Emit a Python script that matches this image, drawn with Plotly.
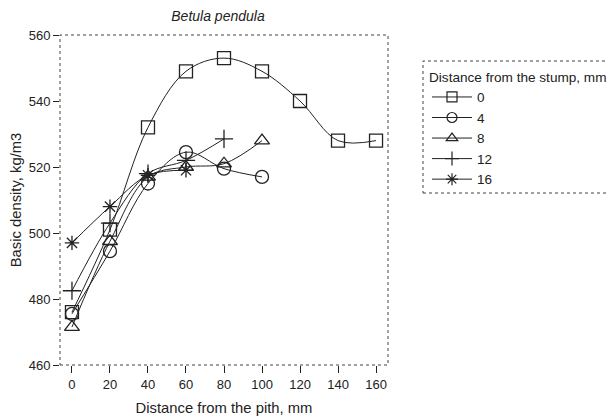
import plotly.graph_objects as go

x_all = [0, 20, 40, 60, 80, 100, 120, 140, 160]
series_names = ["0", "4", "8", "12", "16"]
dens_0 = [476, 501, 532, 549, 553, 549, 540, 528, 528]
dens_4 = [475.5, 494.5, 515, 524.5, 519.5, 517]
dens_8 = [471.5, 497.5, 517, 520, 521, 528]
dens_12 = [482.5, 503, 518, 522, 528.5]
dens_16 = [497, 508, 517.5, 519]
symbols = ["square-open", "circle-open", "triangle-up-open", "cross-thin-open", "asterisk-open"]
sizes = [13, 13, 13, 13, 12]

all_vals = [dens_0, dens_4, dens_8, dens_12, dens_16]

fig = go.Figure()
for name, vals, sym, sz in zip(series_names, all_vals, symbols, sizes):
    fig.add_trace(go.Scatter(
        x=x_all[:len(vals)], y=vals, name=name, mode="lines+markers",
        line=dict(color="#222", width=1, shape="spline", smoothing=1),
        marker=dict(symbol=sym, size=sz, color="#222", line=dict(color="#222", width=1.3)),
        showlegend=False, legendgroup=name,
    ))
for name, sym in zip(series_names, symbols):
    fig.add_trace(go.Scatter(
        x=[None], y=[None], name=name, mode="lines+markers",
        line=dict(color="#222", width=1),
        marker=dict(symbol=sym, size=10, color="#222", line=dict(color="#222", width=1.2)),
        showlegend=True, legendgroup=name,
    ))

font = "Liberation Sans, Arial, sans-serif"
# page body has an 8px margin, so the figure is 8px smaller and drawn in shifted coords
W, H = 608, 408
fig.update_layout(
    width=W, height=H,
    margin=dict(l=52, r=228, t=27, b=51, autoexpand=False),
    paper_bgcolor="white", plot_bgcolor="white",
    font=dict(family=font, size=12, color="#222"),
    title=dict(text="<i>Betula pendula</i>", x=210 / W, xanchor="center",
               y=1 - 8 / H, yanchor="middle", font=dict(size=14, family=font)),
    showlegend=True,
    legend=dict(
        x=(427 - 60) / 328, y=(365 - 64) / 330, xanchor="left", yanchor="top",
        title=dict(text="Distance from the stump, mm", font=dict(size=13.6)),
        font=dict(size=13.5), itemwidth=40, bgcolor="rgba(0,0,0,0)",
        tracegroupgap=0,
    ),
    xaxis=dict(range=[-6.3, 166.3], tickvals=[0, 20, 40, 60, 80, 100, 120, 140, 160],
               ticks="outside", ticklen=7, tickcolor="#222", showgrid=False, zeroline=False,
               showline=False, tickfont=dict(size=13),
               title=dict(text="Distance from the pith, mm", standoff=12, font=dict(size=14.8))),
    yaxis=dict(range=[460, 560], tickvals=[460, 480, 500, 520, 540, 560],
               ticks="outside", ticklen=6, tickcolor="#222", showgrid=False, zeroline=False,
               showline=False, tickfont=dict(size=13),
               title=dict(text="Basic density, kg/m3", standoff=4, font=dict(size=14.8))),
    shapes=[
        dict(type="rect", xref="paper", yref="paper", x0=0, x1=1, y0=0, y1=1,
             line=dict(color="#444", width=1, dash="dot")),
        dict(type="rect", xref="paper", yref="paper", x0=(423 - 60) / 328, x1=(640 - 60) / 328,
             y0=(365 - 193) / 330, y1=(365 - 61) / 330,
             line=dict(color="#444", width=1, dash="dot")),
    ],
)
fig.write_html("out.html")
